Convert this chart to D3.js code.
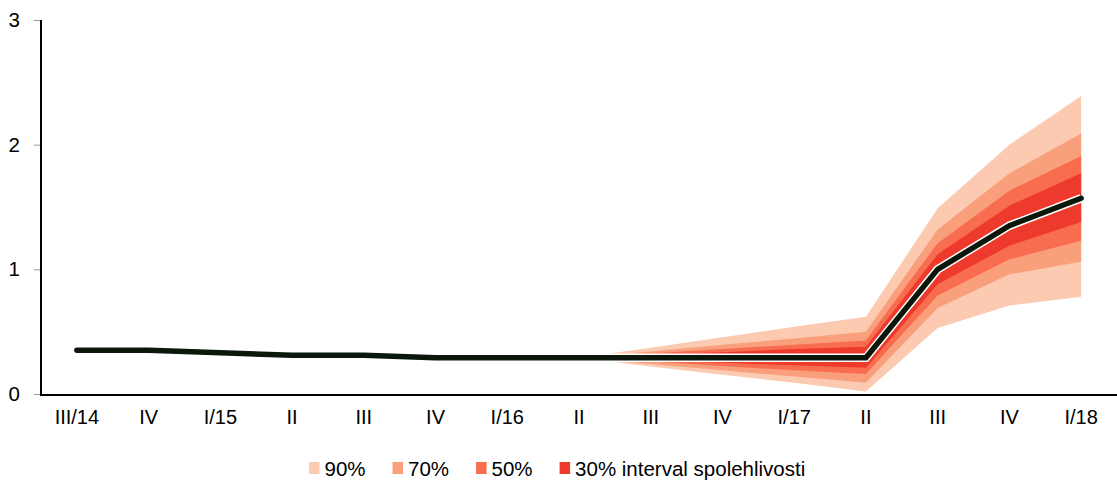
<!DOCTYPE html>
<html><head><meta charset="utf-8">
<script src="https://cdn.jsdelivr.net/npm/d3@7"></script>
<style>body{margin:0;background:#fff;} svg{display:block;font-family:"Liberation Sans",Arial,sans-serif;}</style>
</head><body>
<svg id="c" width="1117" height="481"></svg>
<script>
const categories = ["III/14","IV","I/15","II","III","IV","I/16","II","III","IV","I/17","II","III","IV","I/18"];
const mainLine = [0.35,0.35,0.33,0.31,0.31,0.29,0.29,0.29,0.29,0.29,0.29,0.29,1.0,1.35,1.57];
// fan starts at index 7 (II/16)
const fanStart = 7;
const upper90 = [0.29,0.37,0.455,0.54,0.62,1.49,2.00,2.39];
const lower90 = [0.29,0.22,0.155,0.09,0.02,0.53,0.71,0.78];
const upper70 = [0.29,0.34,0.395,0.445,0.50,1.32,1.77,2.09];
const lower70 = [0.29,0.24,0.19,0.14,0.09,0.69,0.96,1.06];
const upper50 = [0.29,0.325,0.36,0.395,0.43,1.21,1.63,1.91];
const lower50 = [0.29,0.26,0.225,0.19,0.16,0.79,1.08,1.23];
const upper30 = [0.29,0.315,0.335,0.36,0.38,1.12,1.51,1.77];
const lower30 = [0.29,0.27,0.25,0.23,0.21,0.88,1.19,1.38];
const yTicks = [0,1,2,3];
const legendLabels = ["90%","70%","50%","30% interval spolehlivosti"];
const fanColors = ["#fbcab1","#fa9f7c","#f86c4f","#ee3a2c"];

const svg = d3.select("#c");
const mLeft = 41, mRight = 1117, mTop = 20, mBottom = 394;
const x = d3.scaleBand().domain(d3.range(categories.length)).range([mLeft, mRight]);
const xc = i => x(i) + x.bandwidth()/2;
const y = d3.scaleLinear().domain([0,3]).range([mBottom, mTop]);

const bands = [[upper90,lower90],[upper70,lower70],[upper50,lower50],[upper30,lower30]];
const area = d3.area().x(d => xc(d.i)).y0(d => y(d.lo)).y1(d => y(d.hi));
bands.forEach((b,k) => {
  const pts = b[0].map((hi,j) => ({i: fanStart + j, hi: hi, lo: b[1][j]}));
  svg.append("path").attr("d", area(pts)).attr("fill", fanColors[k]);
});

const line = d3.line().x((d,i) => xc(i)).y(d => y(d));
svg.append("path").attr("d", line(mainLine)).attr("fill","none")
  .attr("stroke","#fff").attr("stroke-width",8.5).attr("stroke-linejoin","miter");
svg.append("path").attr("d", line(mainLine)).attr("fill","none")
  .attr("stroke","#0b170b").attr("stroke-width",5.5).attr("stroke-linecap","round").attr("stroke-linejoin","miter");

// y axis
const yAxis = d3.axisLeft(y).tickValues(yTicks).tickSize(7).tickPadding(14).tickFormat(d3.format("d"));
const gy = svg.append("g").attr("transform",`translate(${mLeft},0)`).call(yAxis);
gy.select(".domain").remove();
gy.selectAll(".tick line").attr("stroke","#999").attr("stroke-width",1);
gy.selectAll(".tick text").attr("font-size",20.5).attr("fill","#000").attr("font-family","Liberation Sans, Arial, sans-serif");
svg.append("line").attr("x1",mLeft).attr("x2",mLeft).attr("y1",mTop).attr("y2",mBottom+1).attr("stroke","#000").attr("stroke-width",2);

// x axis
const xAxis = d3.axisBottom(x).tickSize(0).tickPadding(16).tickFormat(i => categories[i]);
const gx = svg.append("g").attr("transform",`translate(0,${mBottom})`).call(xAxis);
gx.select(".domain").remove();
gx.selectAll(".tick text").attr("font-size",20).attr("fill","#000").attr("font-family","Liberation Sans, Arial, sans-serif");
svg.append("line").attr("x1",mLeft-1).attr("x2",mRight).attr("y1",mBottom+1).attr("y2",mBottom+1).attr("stroke","#000").attr("stroke-width",2);

// legend
const lg = svg.append("g").attr("font-size",20.5);
let lx = 309;
legendLabels.forEach((t,k) => {
  lg.append("rect").attr("x",lx).attr("y",462).attr("width",10.5).attr("height",12).attr("fill",fanColors[k]);
  const tx = lg.append("text").attr("x",lx+15.5).attr("y",476).attr("fill","#000").text(t);
  lx += 15.5 + tx.node().getComputedTextLength() + 27;
});
</script>
</body></html>
